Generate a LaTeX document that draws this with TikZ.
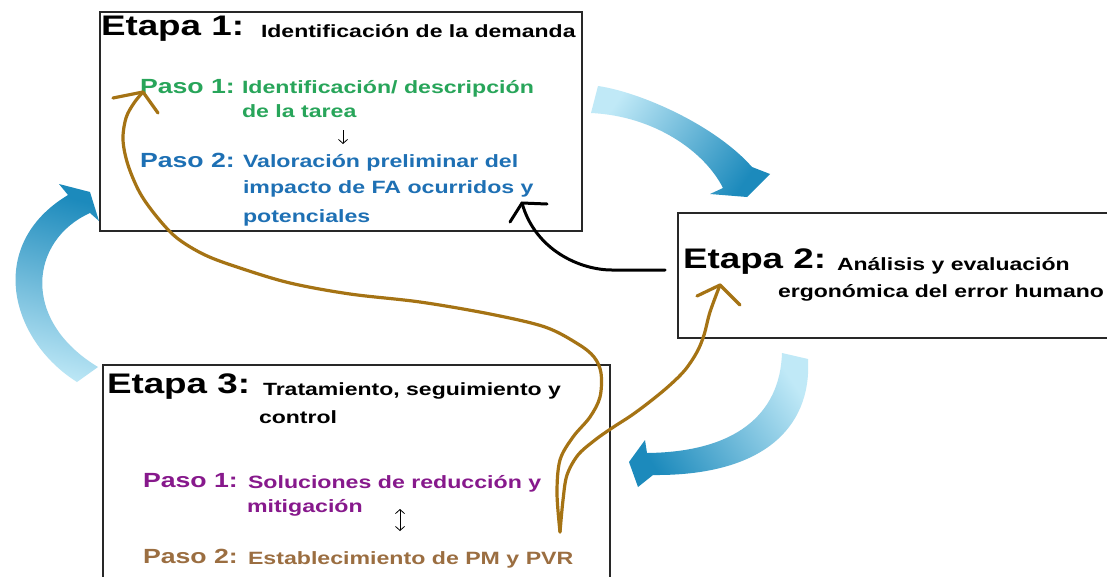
\documentclass[tikz,border=0pt]{standalone}
\usepackage{fontspec}
\newfontfamily\af[FakeStretch=1.3]{Liberation Sans}
\usetikzlibrary{arrows.meta}
\definecolor{pgreen}{RGB}{40,165,90}
\definecolor{pblue}{RGB}{30,112,180}
\definecolor{ppurple}{RGB}{135,25,140}
\definecolor{pbrown}{RGB}{155,110,65}
\definecolor{brownln}{RGB}{165,115,20}
\definecolor{arrlight}{RGB}{192,233,247}
\definecolor{arrmid}{RGB}{95,195,230}
\definecolor{arrdark}{RGB}{28,138,188}
\definecolor{boxln}{RGB}{40,40,40}
\begin{document}
\begin{tikzpicture}[x=1pt,y=-1pt,
  stagebox/.style={draw=boxln, line width=1.8pt, inner sep=0pt, fill=none},
  txt/.style={anchor=base west, inner sep=0pt, outer sep=0pt},
  etapa/.style={txt, font=\af\bfseries\fontsize{28.3}{32}\selectfont},
  subt/.style={txt, font=\af\bfseries\fontsize{17.7}{20}\selectfont},
  pasolbl/.style={txt, font=\af\bfseries\fontsize{20.5}{23}\selectfont},
  body/.style={txt, font=\af\bfseries\fontsize{17.8}{20}\selectfont},
  brownline/.style={draw=brownln, line width=3.2pt, line cap=round, line join=round},
  blackline/.style={draw=black, line width=3pt, line cap=round, line join=round},
  thinarrow/.style={draw=black, line width=0.8pt},
  bigarrow/.style={left color=arrlight, middle color=arrmid, right color=arrdark}
]
\useasboundingbox (0,0) rectangle (1107,576);
\fill[white] (0,0) rectangle (1107,576);

% big blue arrows
\shade[bigarrow, shading angle=55]
  (598,86) .. controls (640,92) and (715,125) .. (752,167) -- (770,174) -- (747,197)
  -- (710,194) -- (723,188) .. controls (705,152) and (655,116) .. (591,113) -- cycle;
\shade[bigarrow, shading angle=-56]
  (808,359) .. controls (812,430) and (760,476) .. (653,475) -- (638,487) -- (629,462)
  -- (645,440) -- (647,453) .. controls (735,452) and (780,415) .. (782,353) -- cycle;
\shade[bigarrow, shading angle=165]
  (77,382) .. controls (10,340) and (-15,245) .. (68,195) -- (59,184) -- (90,192)
  -- (99,221) -- (90,213) .. controls (30,240) and (20,320) .. (98,367) -- cycle;

% stage boxes
\node[stagebox, minimum width=482, minimum height=219] (b1) at (341,121.5) {};
\node[stagebox, minimum width=434, minimum height=125] (b2) at (895,275.5) {};
\node[stagebox, minimum width=507, minimum height=225] (b3) at (356.5,477.5) {};

% Etapa 1
\node[etapa] (e1) at (101,35) {Etapa 1:};
\node[subt] (e1s) at (261,37.5) {Identificación de la demanda};
\node[pasolbl, text=pgreen] (e1p1) at (140,93.5) {Paso 1:};
\node[body, text=pgreen] (e1p1a) at (242,93.5) {Identificación/ descripción};
\node[body, text=pgreen] (e1p1b) at (242,117) {de la tarea};
\node[pasolbl, text=pblue] (e1p2) at (140,167) {Paso 2:};
\node[body, text=pblue] (e1p2a) at (243,167.5) {Valoración preliminar del};
\node[body, text=pblue] (e1p2b) at (243,193) {impacto de FA ocurridos y};
\node[body, text=pblue] (e1p2c) at (243,222) {potenciales};
\coordinate (d1a) at (343,130);
\coordinate (d1b) at (343,144);
\draw[thinarrow, -{Straight Barb[length=4pt,width=9pt]}] (d1a) -- (d1b);

% Etapa 2
\node[etapa] (e2) at (683,268) {Etapa 2:};
\node[subt] (e2s) at (837,270) {Análisis y evaluación};
\node[subt] (e2t) at (778,297.5) {ergonómica del error humano};

% Etapa 3
\node[etapa] (e3) at (107,393) {Etapa 3:};
\node[subt] (e3s) at (263,395) {Tratamiento, seguimiento y};
\node[subt] (e3t) at (259,423) {control};
\node[pasolbl, text=ppurple] (e3p1) at (143,487) {Paso 1:};
\node[body, text=ppurple] (e3p1a) at (248,488) {Soluciones de reducción y};
\node[body, text=ppurple] (e3p1b) at (247,512) {mitigación};
\node[pasolbl, text=pbrown] (e3p2) at (143,563) {Paso 2:};
\node[body, text=pbrown] (e3p2a) at (248,564) {Establecimiento de PM y PVR};
\coordinate (d3a) at (400,509);
\coordinate (d3b) at (400,531);
\draw[thinarrow, {Straight Barb[length=4pt,width=9pt]}-{Straight Barb[length=4pt,width=9pt]}] (d3a) -- (d3b);

% hand-drawn black connector (Etapa 2 -> Etapa 1)
\coordinate (blkS) at (665,270);
\coordinate (blkT) at (522,203);
\draw[blackline] (blkS) -- (612,270) .. controls (580,270) and (535,250) .. (blkT);
\draw[blackline] (510,222) -- (blkT) -- (547,204);

% hand-drawn brown connectors (Etapa 3 -> Etapa 1, Etapa 3 -> Etapa 2)
\coordinate (brS) at (560,532);
\coordinate (brT1) at (143,92);
\coordinate (brT2) at (720,285);
\draw[brownline] plot[smooth, tension=0.55] coordinates {(brS) (557,493) (560,460) (573,437) (590,417) (600,397) (601,373) (594,357) (578,344) (545,327) (490,314) (420,302) (350,294) (290,283) (240,268) (205,255) (177,238) (157,217) (140,193) (128,165) (123,140) (126,118) (134,103) (brT1)};
\draw[brownline] (113,98) -- (brT1) -- (158,113);
\draw[brownline] plot[smooth, tension=0.55] coordinates {(brS) (563,500) (567,475) (578,455) (595,440) (612,428) (632,415) (652,400) (670,385) (685,370) (697,352) (704,335) (710,312) (brT2)};
\draw[brownline] (697,296) -- (brT2) -- (740,305);
\end{tikzpicture}
\end{document}
